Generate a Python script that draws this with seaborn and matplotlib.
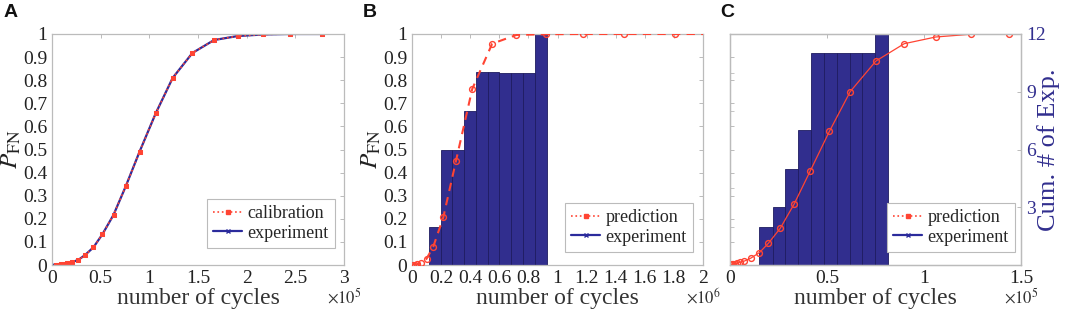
import numpy as np
import matplotlib
matplotlib.use("Agg")
import matplotlib.pyplot as plt
from matplotlib.lines import Line2D
from matplotlib.ticker import FuncFormatter, MultipleLocator, FixedLocator
import seaborn as sns

# ---------------- data ----------------
# Panel A (x in 1e5 cycles)
a_cal_x = [0.04, 0.065, 0.092, 0.123, 0.151, 0.185, 0.21, 0.27, 0.339, 0.425, 0.518,
           0.632, 0.757, 0.9, 1.066, 1.24, 1.443, 1.666, 1.906, 2.17, 2.45, 2.77]
a_cal_y = [0.0005, 0.0014, 0.003, 0.004, 0.007, 0.009, 0.013, 0.022, 0.043, 0.076, 0.133,
           0.217, 0.34, 0.491, 0.657, 0.81, 0.918, 0.974, 0.991, 0.998, 1.0, 1.0]
a_exp_x = [0.0] + a_cal_x
a_exp_y = [0.0] + a_cal_y

# Panel B (x in 1e6 cycles)
b_pred_x = [0.005, 0.02, 0.037, 0.062, 0.1, 0.146, 0.215, 0.302, 0.414, 0.551, 0.718,
            0.923, 1.173, 1.458, 1.806, 2.2]
b_pred_y = [0.0, 0.001, 0.003, 0.007, 0.027, 0.079, 0.206, 0.45, 0.762, 0.958, 0.996,
            0.999, 1.0, 1.0, 1.0, 1.0]
b_bin_edges = [0.114, 0.197, 0.274, 0.354, 0.439, 0.519, 0.6, 0.683, 0.765, 0.846, 0.93]
b_exp_frac = [2/12, 6/12, 6/12, 8/12, 10/12, 10/12, 10/12, 10/12, 10/12, 12/12]

# Panel C (x in 1e5 cycles)
c_pred_x = [0.0, 0.009, 0.017, 0.026, 0.034, 0.05, 0.074, 0.108, 0.152, 0.198, 0.259,
            0.33, 0.413, 0.512, 0.62, 0.752, 0.898, 1.06, 1.242, 1.44]
c_pred_y = [0.003, 0.003, 0.003, 0.004, 0.007, 0.012, 0.017, 0.030, 0.054, 0.094, 0.159,
            0.263, 0.406, 0.578, 0.751, 0.883, 0.958, 0.987, 0.999, 1.0]
c_bin_edges = [0.151, 0.220, 0.285, 0.351, 0.416, 0.483, 0.550, 0.617, 0.682, 0.747, 0.813]
c_exp_count = [2, 3, 5, 7, 11, 11, 11, 11, 11, 12]

y_ticks = [0, 0.1, 0.2, 0.3, 0.4, 0.5, 0.6, 0.7, 0.8, 0.9, 1.0]
c_right_ticks = [3, 6, 9, 12]

# ---------------- style ----------------
sns.set_style("white")
plt.rcParams["font.family"] = ["Liberation Serif", "DejaVu Serif"]
plt.rcParams["mathtext.fontset"] = "stix"

RED = "#FF4433"
BLUE = "#2B2B9C"
NAVY = "#312E8E"
EDGE = "#1E1C60"
SPINE = "#BBBBBB"
TXT = "#222222"
TICK_FS = 14
LAB_FS = 17

W, H = 1065, 313
fig = plt.figure(figsize=(W / 100, H / 100), dpi=100)

def px_axes(l, r, t=34, b=265):
    return fig.add_axes([l / W, (H - b) / H, (r - l) / W, (b - t) / H])

axA = px_axes(52, 344)
axB = px_axes(412, 703)
axC = px_axes(730, 1021)

fmt = FuncFormatter(lambda v, p: f"{v:g}")

def style(ax, right=True):
    for s in ax.spines.values():
        s.set_color(SPINE)
        s.set_linewidth(0.9)
    ax.tick_params(direction="in", length=3, width=0.7, color=SPINE,
                   labelsize=TICK_FS, labelcolor=TXT, pad=3.5,
                   top=True, right=right)
    ax.xaxis.set_major_formatter(fmt)
    ax.yaxis.set_major_formatter(fmt)

def xlab(ax, exp):
    ax.set_xlabel("number of cycles", fontsize=LAB_FS, color="#333333", labelpad=1)
    ax.text(1.0, -0.14, r"$\times10^{%d}$" % exp, transform=ax.transAxes,
            ha="center", va="center", fontsize=12, color="#333333")

def legend(ax, names, rgap, bgap, w=292, h=231):
    handles = [
        Line2D([], [], color=RED, ls=":", lw=1.2, marker="s", markersize=3,
               markerfacecolor=RED, markeredgecolor=RED),
        Line2D([], [], color=BLUE, ls="-", lw=1.6, marker="x", markersize=3,
               markeredgecolor=BLUE),
    ]
    lg = ax.legend(handles, names, loc="lower right",
                   bbox_to_anchor=(1 - rgap / w, bgap / h), borderaxespad=0,
                   fontsize=13, frameon=True, fancybox=False, framealpha=1,
                   edgecolor=SPINE, handlelength=1.6, handletextpad=0.3,
                   labelspacing=0.15, borderpad=0.35)
    lg.get_frame().set_linewidth(0.8)

def ylab(ax):
    ax.set_ylabel(r"$P_{\mathrm{FN}}$", fontsize=18, color=TXT, labelpad=0)

# ---------------- panel A ----------------
sns.lineplot(x=a_exp_x, y=a_exp_y, ax=axA, color=BLUE, lw=1.6, marker="x",
             markersize=2.5, markeredgecolor=BLUE, sort=False, legend=False)
sns.lineplot(x=a_cal_x, y=a_cal_y, ax=axA, color=RED, lw=1.2, ls=":", marker="s",
             markersize=3, markeredgecolor=RED, markerfacecolor=RED, sort=False,
             legend=False)
axA.set_xlim(0, 3)
axA.set_ylim(0, 1)
axA.xaxis.set_major_locator(MultipleLocator(0.5))
axA.yaxis.set_major_locator(FixedLocator(y_ticks))
style(axA)
ylab(axA)
xlab(axA, 5)
legend(axA, ["calibration", "experiment"], 9, 17)

# ---------------- panel B ----------------
b_centers = [(b_bin_edges[i] + b_bin_edges[i + 1]) / 2 for i in range(len(b_exp_frac))]
sns.histplot(x=b_centers, weights=b_exp_frac, bins=b_bin_edges, ax=axB,
             color=NAVY, alpha=1, edgecolor=EDGE, linewidth=0.6, zorder=1)
sns.lineplot(x=b_pred_x, y=b_pred_y, ax=axB, color=RED, lw=1.5, ls=(0, (4, 3)),
             marker="o", markersize=4.2, markerfacecolor="none", markeredgecolor=RED,
             markeredgewidth=1.0, sort=False, legend=False, zorder=3)
axB.set_xlim(0, 2)
axB.set_ylim(0, 1)
axB.xaxis.set_major_locator(MultipleLocator(0.2))
axB.yaxis.set_major_locator(FixedLocator(y_ticks))
style(axB)
ylab(axB)
xlab(axB, 6)
legend(axB, ["prediction", "experiment"], 10, 13)

# ---------------- panel C ----------------
axC2 = axC.twinx()
c_centers = [(c_bin_edges[i] + c_bin_edges[i + 1]) / 2 for i in range(len(c_exp_count))]
sns.histplot(x=c_centers, weights=c_exp_count, bins=c_bin_edges, ax=axC2,
             color=NAVY, alpha=1, edgecolor=EDGE, linewidth=0.6)
axC2.set_ylim(0, 12)
axC2.set_xlim(0, 1.5)
axC2.yaxis.set_major_locator(FixedLocator(c_right_ticks))
for s in axC2.spines.values():
    s.set_color(SPINE)
    s.set_linewidth(0.9)
axC2.tick_params(axis="y", direction="in", length=3, width=0.7, color=SPINE,
                 labelsize=TICK_FS, labelcolor=NAVY, pad=4)
axC2.set_ylabel("Cum. # of Exp.", fontsize=19, color=NAVY, va="center")
axC2.yaxis.set_label_coords((1049 - 730) / 291, 0.5)

sns.lineplot(x=c_pred_x, y=c_pred_y, ax=axC, color=RED, lw=0.9, ls="-",
             marker="o", markersize=4.2, markerfacecolor="none", markeredgecolor=RED,
             markeredgewidth=1.0, sort=False, legend=False)
axC.set_zorder(axC2.get_zorder() + 1)
axC.patch.set_visible(False)
axC.set_xlim(0, 1.5)
axC.set_ylim(0, 1)
axC.xaxis.set_major_locator(MultipleLocator(0.5))
axC.yaxis.set_major_locator(FixedLocator(y_ticks))
axC.yaxis.set_minor_locator(FixedLocator([2 / 12, 4 / 12, 8 / 12, 10 / 12]))
style(axC, right=False)
axC.tick_params(axis="y", which="both", labelleft=False, length=3, direction="in",
                color=SPINE)
axC.set_ylabel("")
xlab(axC, 5)
legend(axC, ["prediction", "experiment"], 6, 13)

# ---------------- panel letters ----------------
for lbl, xp in [("A", 4), ("B", 363), ("C", 720)]:
    fig.text(xp / W, 1 - 4 / H, lbl, ha="left", va="top", fontsize=14,
             fontweight="bold", family="Liberation Sans", color="#111111")

fig.savefig("out.png", dpi=100)
